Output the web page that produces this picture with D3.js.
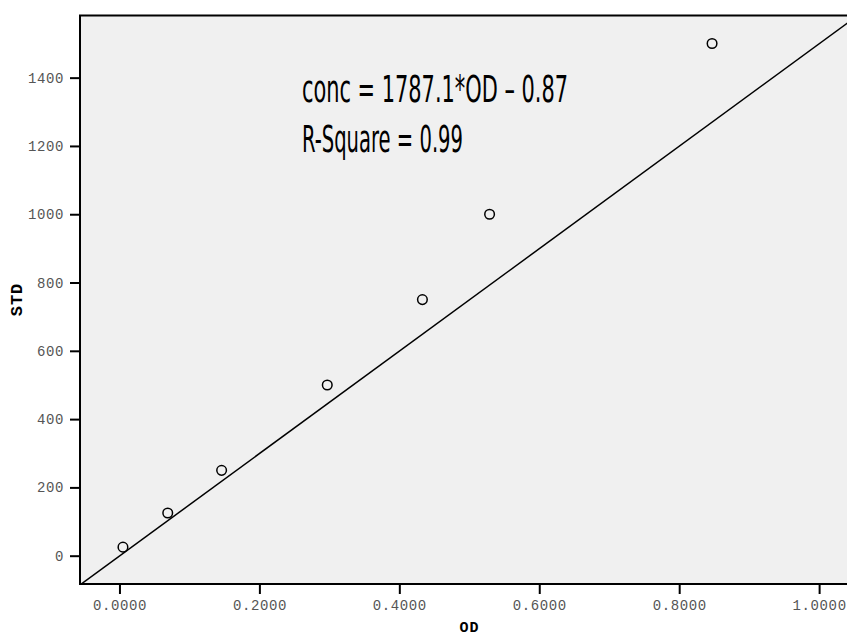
<!DOCTYPE html>
<html>
<head>
<meta charset="utf-8">
<script src="https://cdn.jsdelivr.net/npm/d3@7"></script>
<style>
  body { margin: 0; background: #fff; }
  .tick text { font-family: "Liberation Mono", "Courier New", monospace; font-size: 14px; letter-spacing: 0.6px; fill: #555; }
  .tick line { stroke: #000; stroke-width: 2; }
</style>
</head>
<body>
<div id="chart"></div>
<script>
// data
var od  = [0.005, 0.069, 0.146, 0.297, 0.433, 0.529, 0.847];
var std = [25, 125, 250, 500, 750, 1000, 1500];
var xTicks = [0, 0.2, 0.4, 0.6, 0.8, 1.0];
var yTicks = [0, 200, 400, 600, 800, 1000, 1200, 1400];
// fit line as drawn on the chart
var fitSlope = 1500, fitIntercept = -1;
var fitRange = [-0.07, 1.1];
var eqText = ["conc = 1787.1*OD \u2013 0.87", "R-Square = 0.99"];

var W = 847, H = 639;
var margin = { top: 15.5, left: 80, bottom: 55, right: -12 },
    width = W - margin.left - margin.right,
    height = H - margin.top - margin.bottom;

var svg = d3.select("#chart").append("svg")
  .attr("width", W).attr("height", H);

var g = svg.append("g")
  .attr("transform", "translate(" + margin.left + "," + margin.top + ")");

var x = d3.scaleLinear().domain([-0.0564, 1.057]).range([0, width]);
var y = d3.scaleLinear().domain([-82.9, 1582]).range([height, 0]);

g.append("rect")
  .attr("width", width).attr("height", height)
  .attr("fill", "#f0f0f0");

g.append("clipPath").attr("id", "clip")
  .append("rect").attr("width", width).attr("height", height);

// axes
var xAxis = g.append("g")
  .attr("transform", "translate(0," + height + ")")
  .call(d3.axisBottom(x).tickValues(xTicks).tickSize(10).tickPadding(6).tickFormat(d3.format(".4f")));
xAxis.select(".domain").remove();

var yAxis = g.append("g")
  .call(d3.axisLeft(y).tickValues(yTicks).tickSize(10).tickPadding(6).tickFormat(d3.format("d")));
yAxis.select(".domain").remove();

// fit line
g.append("path")
  .datum(fitRange.map(function (d) { return [d, fitSlope * d + fitIntercept]; }))
  .attr("clip-path", "url(#clip)")
  .attr("fill", "none")
  .attr("stroke", "#000")
  .attr("stroke-width", 1.5)
  .attr("d", d3.line().x(function (d) { return x(d[0]); }).y(function (d) { return y(d[1]); }));

// points
g.selectAll("circle.pt")
  .data(od.map(function (d, i) { return [d, std[i]]; }))
  .enter().append("circle")
  .attr("class", "pt")
  .attr("cx", function (d) { return x(d[0]); })
  .attr("cy", function (d) { return y(d[1]); })
  .attr("r", 4.8)
  .attr("fill", "none")
  .attr("stroke", "#000")
  .attr("stroke-width", 1.5);

// frame
g.append("rect")
  .attr("width", width).attr("height", height)
  .attr("fill", "none").attr("stroke", "#000").attr("stroke-width", 2);

// equation
var eqW = [266, 161];
g.selectAll("text.eq")
  .data(eqText)
  .enter().append("text")
  .attr("class", "eq")
  .attr("x", 302 - margin.left)
  .attr("y", function (d, i) { return 101.5 - margin.top + i * 50; })
  .attr("textLength", function (d, i) { return eqW[i]; })
  .attr("lengthAdjust", "spacingAndGlyphs")
  .style("font-family", "'Liberation Sans Narrow', 'DejaVu Sans Condensed', sans-serif")
  .style("font-size", "37px")
  .style("fill", "#000")
  .text(function (d) { return d; });

// axis titles
svg.append("text")
  .attr("x", 469.5).attr("y", 632)
  .attr("text-anchor", "middle")
  .style("font-family", "'Liberation Mono', monospace")
  .style("font-weight", "bold").style("font-size", "15px")
  .style("letter-spacing", "1px")
  .text("OD");

svg.append("text")
  .attr("transform", "translate(22,299.5) rotate(-90)")
  .attr("text-anchor", "middle")
  .style("font-family", "'Liberation Mono', monospace")
  .style("font-weight", "bold").style("font-size", "17px")
  .style("letter-spacing", "1px")
  .text("STD");
</script>
</body>
</html>
